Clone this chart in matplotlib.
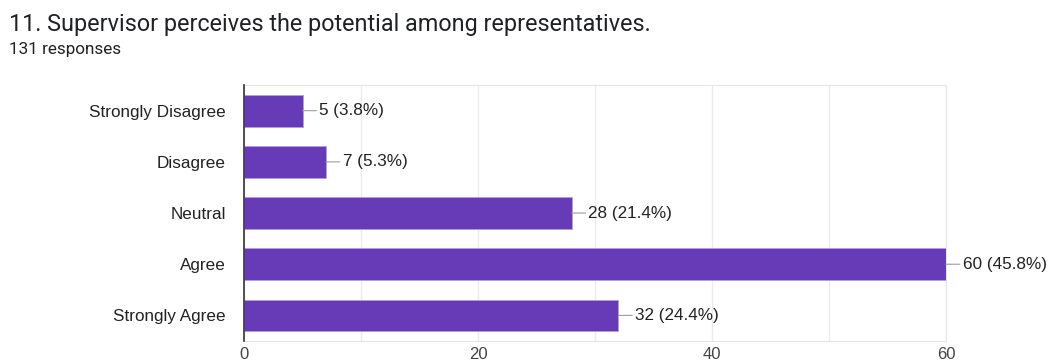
import matplotlib.pyplot as plt
from matplotlib.ticker import MultipleLocator

categories = ['Strongly Disagree', 'Disagree', 'Neutral', 'Agree', 'Strongly Agree']
counts = [5, 7, 28, 60, 32]
percents = [3.8, 5.3, 21.4, 45.8, 24.4]
total = 131

fig = plt.figure(figsize=(10.5, 3.62), dpi=100)
ax = fig.add_axes([0.2324, 0.058, 0.6686, 0.707])

bar_color = '#673ab7'
ax.barh(range(len(categories)), counts, height=0.62, color=bar_color,
        edgecolor='#b39ddb', linewidth=0.6, zorder=3)

ax.set_ylim(len(categories) - 0.5, -0.5)
ax.set_xlim(0, 60)
ax.xaxis.set_major_locator(MultipleLocator(20))
ax.xaxis.set_minor_locator(MultipleLocator(10))
ax.grid(axis='x', which='both', color='#ececec', linewidth=1, zorder=0)

ax.set_yticks(range(len(categories)))
ax.set_yticklabels(categories, fontsize=12.3, color='#222222', family='Liberation Sans')
ax.tick_params(axis='y', length=0, pad=13)
ax.tick_params(axis='x', which='both', length=0, pad=4, labelsize=12, labelcolor='#444444')
for lbl in ax.get_xticklabels():
    lbl.set_family('Liberation Sans')

for s in ['top', 'right', 'bottom']:
    ax.spines[s].set_color('#e6e6e6')
ax.spines['left'].set_color('#333333')
ax.spines['left'].set_linewidth(1.2)
ax.spines['left'].set_zorder(4)

# value labels with short leader lines
for i, (c, p) in enumerate(zip(counts, percents)):
    ax.annotate(f'{c} ({p}%)', xy=(c, i), xytext=(12, 0), textcoords='offset points',
                va='center', ha='left', fontsize=12.3, color='#222222',
                family='Liberation Sans', annotation_clip=False,
                arrowprops=dict(arrowstyle='-', color='#9e9e9e', lw=0.8,
                                shrinkA=0, shrinkB=0))

fig.text(0.0086, 0.914, '11. Supervisor perceives the potential among representatives.',
         fontsize=16.8, color='#202124', family='Roboto', va='baseline')
fig.text(0.0086, 0.851, f'{total} responses', fontsize=12.3, color='#202124',
         family='Roboto', va='baseline')

fig.savefig('out.png', dpi=100)
